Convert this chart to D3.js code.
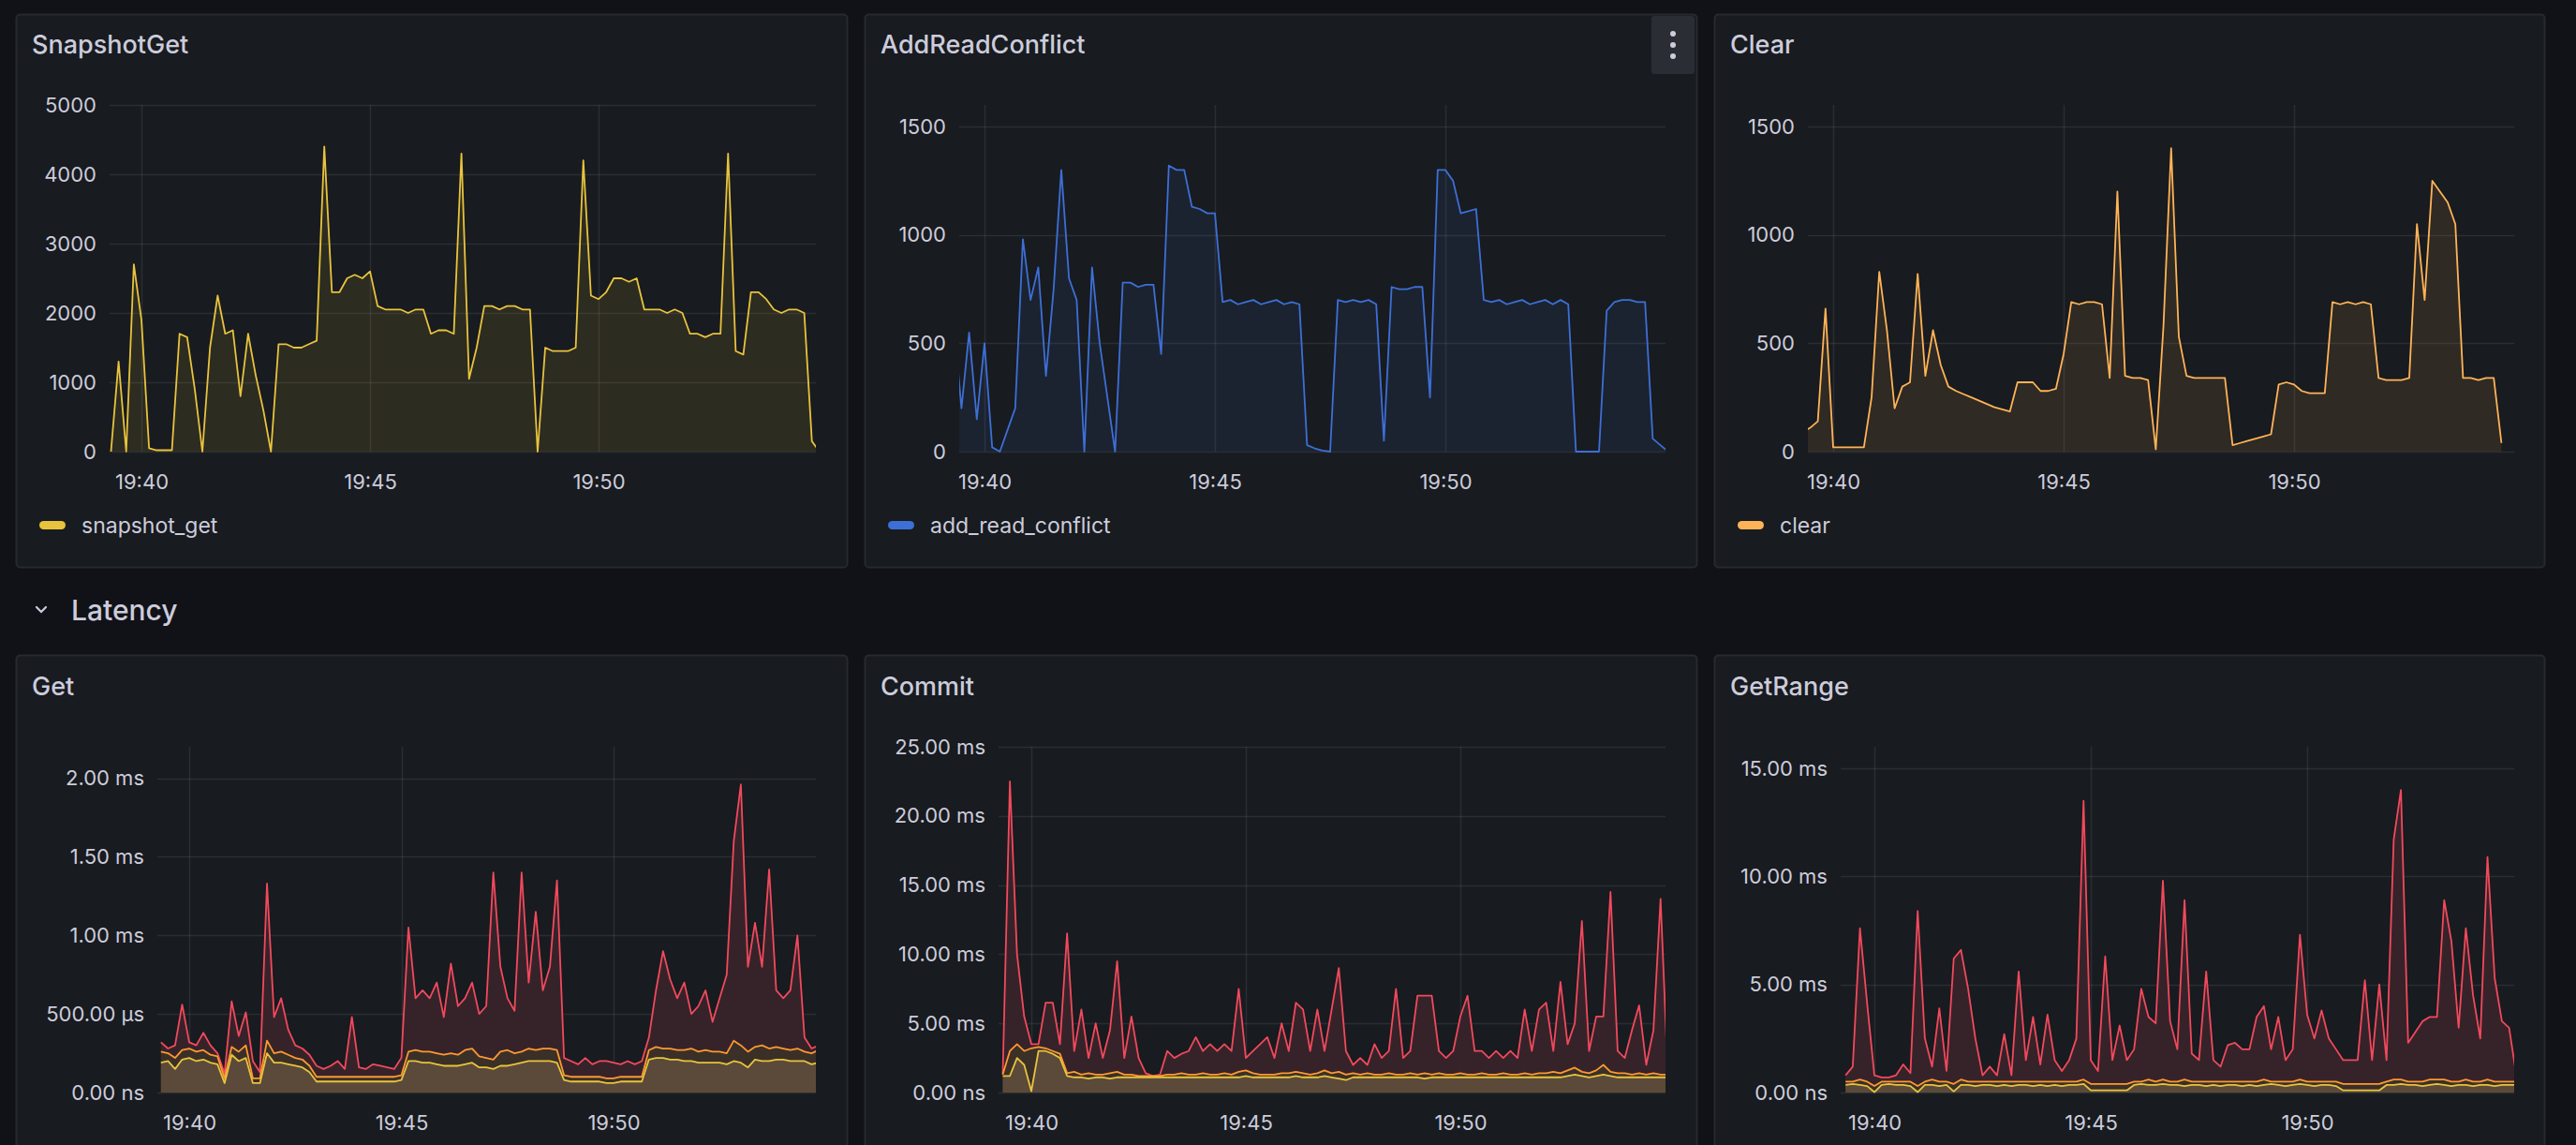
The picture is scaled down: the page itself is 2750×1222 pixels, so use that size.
<!DOCTYPE html>
<html>
<head>
<meta charset="utf-8">
<script src="https://cdn.jsdelivr.net/npm/d3@7"></script>
<style>
  body { margin: 0; background: #111217; }
  svg { display: block; font-family: Inter, "Noto Sans", sans-serif; }
</style>
</head>
<body>
<svg id="dash" width="2750" height="1222"></svg>
<script>
// sample times: 19:39:20 .. 19:54:50, one every 10 s
var t0 = new Date(2024, 0, 1, 19, 39, 20);
var times = d3.range(94).map(function (i) { return new Date(+t0 + i * 10000); });
var tickTimes = [new Date(2024, 0, 1, 19, 40), new Date(2024, 0, 1, 19, 45), new Date(2024, 0, 1, 19, 50)];

var snapshotGet = [
  0, 1300, 0, 2700, 1900, 50, 20, 20, 20, 1700,
  1650, 900, 0, 1500, 2250, 1700, 1750, 800, 1700, 1100,
  600, 0, 1550, 1550, 1500, 1500, 1550, 1600, 4400, 2300,
  2300, 2500, 2550, 2500, 2600, 2100, 2050, 2050, 2050, 2000,
  2050, 2050, 1700, 1750, 1750, 1700, 4300, 1050, 1500, 2100,
  2100, 2050, 2100, 2100, 2050, 2050, 0, 1500, 1450, 1450,
  1450, 1500, 4200, 2250, 2200, 2300, 2500, 2500, 2450, 2500,
  2050, 2050, 2050, 2000, 2050, 2000, 1700, 1700, 1650, 1700,
  1700, 4300, 1450, 1400, 2300, 2300, 2200, 2050, 2000, 2050,
  2050, 2000, 150, 0];

var addReadConflict = [
  600, 200, 550, 150, 500, 20, 0, 100, 200, 980,
  700, 850, 350, 750, 1300, 800, 700, 0, 850, 500,
  250, 0, 780, 780, 760, 770, 770, 450, 1320, 1300,
  1300, 1130, 1120, 1100, 1100, 690, 700, 680, 690, 700,
  680, 690, 700, 680, 690, 680, 30, 15, 5, 0,
  700, 690, 700, 690, 700, 680, 50, 760, 750, 750,
  760, 760, 250, 1300, 1300, 1250, 1100, 1110, 1120, 700,
  690, 700, 680, 690, 700, 680, 690, 700, 680, 700,
  680, 0, 0, 0, 0, 650, 690, 700, 700, 690,
  690, 60, 30, 0];

var clear = [
  90, 110, 140, 660, 20, 20, 20, 20, 20, 250,
  830, 560, 200, 300, 320, 820, 350, 560, 400, 300,
  280, 265, 250, 235, 220, 205, 195, 185, 320, 320,
  320, 280, 280, 290, 450, 690, 680, 690, 690, 680,
  340, 1200, 350, 340, 340, 330, 10, 580, 1400, 530,
  350, 340, 340, 340, 340, 340, 30, 40, 50, 60,
  70, 80, 310, 320, 310, 280, 270, 270, 270, 690,
  680, 690, 680, 690, 680, 340, 330, 330, 330, 340,
  1050, 700, 1250, 1200, 1150, 1050, 340, 340, 330, 340,
  340, 40, null, null];

// Get latency, microseconds
var getP99 = [
  320, 280, 300, 560, 320, 300, 380, 300, 250, 120,
  580, 360, 510, 200, 130, 1330, 480, 600, 400, 300,
  280, 240, 170, 150, 170, 200, 150, 480, 160, 150,
  180, 170, 160, 150, 220, 1050, 600, 650, 600, 700,
  480, 820, 550, 600, 700, 500, 550, 1400, 800, 600,
  520, 1400, 700, 1150, 650, 800, 1350, 220, 200, 180,
  220, 180, 200, 200, 190, 180, 200, 180, 200, 350,
  650, 900, 720, 600, 700, 500, 550, 650, 450, 600,
  750, 1600, 1960, 800, 1080, 800, 1420, 650, 600, 650,
  1000, 350, 280, 300];
var getP95 = [
  260, 250, 220, 270, 280, 260, 270, 240, 230, 90,
  290, 260, 300, 90, 90, 330, 250, 260, 240, 220,
  210, 170, 100, 100, 100, 100, 100, 100, 100, 100,
  100, 100, 100, 100, 110, 260, 270, 260, 260, 250,
  240, 250, 240, 270, 280, 230, 220, 210, 260, 270,
  250, 260, 280, 270, 280, 280, 270, 110, 100, 100,
  100, 100, 100, 90, 90, 100, 100, 100, 100, 270,
  290, 280, 280, 270, 270, 280, 260, 270, 260, 260,
  250, 330, 300, 260, 290, 300, 280, 290, 280, 270,
  280, 260, 250, 270];
var getP50 = [
  190, 200, 150, 210, 220, 200, 210, 190, 180, 60,
  240, 200, 220, 60, 60, 250, 190, 190, 180, 170,
  160, 130, 70, 70, 70, 70, 70, 70, 70, 70,
  70, 70, 70, 70, 80, 200, 200, 190, 190, 180,
  170, 170, 170, 180, 190, 160, 160, 150, 170, 170,
  180, 190, 200, 200, 200, 200, 190, 80, 70, 70,
  70, 70, 70, 60, 60, 70, 70, 70, 70, 210,
  220, 220, 210, 210, 200, 200, 190, 190, 190, 190,
  180, 200, 190, 160, 210, 200, 200, 210, 210, 200,
  200, 200, 180, 190];

// Commit latency, milliseconds
var commitP99 = [
  1.3, 22.5, 10, 5.5, 3.5, 3.5, 6.5, 6.5, 3.5, 11.5,
  3, 6, 2.5, 5, 2.5, 4.5, 9.5, 2.5, 5.5, 2.5,
  1.4, 1.2, 1.3, 3, 2.5, 2.8, 3, 4, 3, 3.5,
  3, 3.5, 3, 7.5, 2.5, 3, 3.5, 4, 2.5, 5,
  3, 6.5, 6, 3, 6, 3, 6, 9, 3, 2,
  2.5, 2, 3.5, 2.5, 3, 7.5, 2.5, 3, 7, 7,
  7, 3, 2.5, 3, 5.5, 7, 3, 3, 2.5, 3,
  2.5, 3, 2.5, 6, 3, 6, 6.5, 3, 8, 3.5,
  5, 12.4, 3, 5.5, 5.5, 14.5, 3, 2.5, 4.5, 6.3,
  2, 4.5, 14, 1.5];
var commitP95 = [
  1.3, 3, 3.5, 3, 3.2, 3.3, 3.2, 3, 2.8, 1.4,
  1.5, 1.3, 1.4, 1.3, 1.3, 1.4, 1.5, 1.3, 1.3, 1.2,
  1.2, 1.2, 1.2, 1.3, 1.3, 1.4, 1.3, 1.3, 1.4, 1.3,
  1.3, 1.4, 1.3, 1.5, 1.6, 1.4, 1.3, 1.3, 1.3, 1.4,
  1.4, 1.5, 1.4, 1.3, 1.4, 1.6, 1.4, 1.5, 1.3, 1.4,
  1.3, 1.4, 1.3, 1.3, 1.4, 1.3, 1.3, 1.4, 1.3, 1.4,
  1.3, 1.4, 1.3, 1.3, 1.4, 1.3, 1.3, 1.4, 1.3, 1.3,
  1.4, 1.3, 1.3, 1.4, 1.3, 1.4, 1.4, 1.5, 1.4, 1.6,
  1.8, 1.5, 1.4, 1.6, 2, 1.5, 1.4, 1.4, 1.3, 1.4,
  1.3, 1.4, 1.3, 1.3];
var commitP50 = [
  1.2, 1.2, 2.5, 2, 0.1, 3, 3, 2.8, 2.5, 1.2,
  1.1, 1.1, 1.0, 1.1, 1.1, 1.0, 1.1, 1.1, 1.1, 1.1,
  1.1, 1.1, 1.1, 1.1, 1.1, 1.1, 1.1, 1.1, 1.1, 1.1,
  1.1, 1.1, 1.1, 1.1, 1.2, 1.1, 1.1, 1.1, 1.1, 1.1,
  1.1, 1.2, 1.1, 1.1, 1.1, 1.2, 1.1, 1.0, 0.9, 1.1,
  1.1, 1.1, 1.1, 1.1, 1.1, 1.1, 1.1, 1.1, 1.1, 1.0,
  1.1, 1.1, 1.1, 1.1, 1.1, 1.1, 1.1, 1.1, 1.1, 1.1,
  1.1, 1.1, 1.1, 1.1, 1.1, 1.1, 1.1, 1.1, 1.1, 1.2,
  1.3, 1.2, 1.1, 1.2, 1.3, 1.2, 1.1, 1.1, 1.1, 1.1,
  1.1, 1.1, 1.1, 1.1];

// GetRange latency, milliseconds
var getRangeP99 = [
  0.8, 1.2, 7.6, 4.1, 0.8, 0.7, 0.7, 0.8, 1.3, 0.9,
  8.4, 2.5, 1.2, 3.9, 1, 6.2, 6.6, 4.8, 2.5, 0.8,
  1.2, 0.8, 2.7, 0.8, 5.6, 1.5, 3.5, 1.3, 3.6, 1.5,
  1, 1.5, 2.5, 13.5, 1.5, 1, 6.3, 1.5, 3.1, 1.5,
  2, 4.8, 3.5, 3.2, 9.8, 3.3, 2, 8.9, 1.8, 1.5,
  5.6, 1.5, 1.2, 2.2, 2.3, 2, 2, 3.5, 4, 2,
  3.5, 1.5, 2, 7.3, 3.6, 2.5, 3.8, 2.5, 2, 1.5,
  1.5, 1.5, 5.2, 1.5, 5, 1.5, 11.7, 14, 2.3, 2.8,
  3.3, 3.5, 3.5, 8.9, 7, 3, 7.6, 4.5, 2.5, 10.9,
  5.3, 3.3, 3, 0.8];
var getRangeP95 = [
  0.5, 0.5, 0.6, 0.5, 0.3, 0.5, 0.5, 0.5, 0.5, 0.5,
  0.3, 0.5, 0.6, 0.5, 0.5, 0.4, 0.6, 0.5, 0.5, 0.5,
  0.5, 0.5, 0.5, 0.5, 0.5, 0.5, 0.5, 0.5, 0.5, 0.5,
  0.5, 0.5, 0.5, 0.6, 0.4, 0.4, 0.4, 0.4, 0.4, 0.4,
  0.5, 0.5, 0.6, 0.5, 0.6, 0.5, 0.5, 0.6, 0.5, 0.5,
  0.5, 0.5, 0.5, 0.5, 0.5, 0.5, 0.5, 0.5, 0.6, 0.5,
  0.5, 0.5, 0.5, 0.6, 0.5, 0.5, 0.5, 0.5, 0.5, 0.4,
  0.4, 0.4, 0.4, 0.4, 0.4, 0.5, 0.6, 0.6, 0.5, 0.5,
  0.5, 0.6, 0.6, 0.6, 0.5, 0.5, 0.6, 0.5, 0.5, 0.6,
  0.5, 0.5, 0.5, 0.5];
var getRangeP50 = [
  0.35, 0.4, 0.35, 0.3, 0.02, 0.35, 0.4, 0.35, 0.35, 0.3,
  0.02, 0.35, 0.35, 0.3, 0.35, 0.05, 0.35, 0.35, 0.3, 0.35,
  0.35, 0.3, 0.35, 0.3, 0.35, 0.35, 0.3, 0.35, 0.3, 0.35,
  0.3, 0.35, 0.35, 0.4, 0.1, 0.1, 0.1, 0.1, 0.1, 0.1,
  0.35, 0.4, 0.35, 0.35, 0.4, 0.35, 0.35, 0.3, 0.35, 0.35,
  0.3, 0.35, 0.3, 0.35, 0.35, 0.3, 0.35, 0.3, 0.35, 0.4,
  0.35, 0.3, 0.35, 0.4, 0.35, 0.3, 0.35, 0.35, 0.3, 0.1,
  0.1, 0.1, 0.1, 0.1, 0.1, 0.35, 0.35, 0.4, 0.35, 0.35,
  0.3, 0.35, 0.4, 0.35, 0.3, 0.35, 0.35, 0.3, 0.35, 0.35,
  0.3, 0.35, 0.35, 0.35];

var C = {
  text: '#ccccdc', grid: 'rgba(204,204,220,0.10)', panel: '#181b1f', border: '#26292f',
  yellow: '#e8c33d', blue: '#3d6fd6', orange: '#ffb357', red: '#f2495c', amber: '#ff9830', p50: '#e8c33d'
};

var svg = d3.select('#dash');

function fmtLatencyUs(d) {
  if (d === 0) return '0.00 ns';
  return d < 1000 ? d.toFixed(2) + ' µs' : (d / 1000).toFixed(2) + ' ms';
}
function fmtLatencyMs(d) {
  return d === 0 ? '0.00 ns' : d.toFixed(2) + ' ms';
}

function panelBox(p) {
  var g = svg.append('g');
  g.append('rect')
    .attr('x', p.box[0] + 0.5).attr('y', p.box[1] + 0.5)
    .attr('width', p.box[2] - p.box[0]).attr('height', p.box[3] - p.box[1])
    .attr('rx', 4).attr('fill', C.panel).attr('stroke', C.border).attr('stroke-width', 2);
  g.append('text')
    .attr('x', p.box[0] + 17).attr('y', p.titleY)
    .attr('fill', C.text).attr('font-size', 27).attr('font-weight', 500)
    .text(p.title);
  return g;
}

function drawPanel(p, idx) {
  var g = panelBox(p);

  var x = d3.scaleTime().domain([tickTimes[0], tickTimes[2]]).range([p.x40, p.x50]);
  var y = d3.scaleLinear().domain([0, p.ymax]).range([p.bottom, p.top]);

  // grid
  var grid = g.append('g');
  grid.selectAll('line.h').data(p.yticks).enter().append('line')
    .attr('x1', p.left).attr('x2', p.right)
    .attr('y1', function (d) { return Math.round(y(d)) + 0.5; })
    .attr('y2', function (d) { return Math.round(y(d)) + 0.5; })
    .attr('stroke', C.grid).attr('stroke-width', 1.5);
  grid.selectAll('line.v').data(tickTimes).enter().append('line')
    .attr('x1', function (d) { return Math.round(x(d)) + 0.5; })
    .attr('x2', function (d) { return Math.round(x(d)) + 0.5; })
    .attr('y1', p.top).attr('y2', p.bottom)
    .attr('stroke', C.grid).attr('stroke-width', 1.5);

  // axes
  var yAxis = g.append('g').attr('transform', 'translate(' + (p.left - 14) + ',0)')
    .call(d3.axisLeft(y).tickValues(p.yticks).tickFormat(p.fmt).tickSize(0).tickPadding(0));
  var xAxis = g.append('g').attr('transform', 'translate(0,' + (p.bottom + 14) + ')')
    .call(d3.axisBottom(x).tickValues(tickTimes).tickFormat(d3.timeFormat('%H:%M')).tickSize(0).tickPadding(10));
  [yAxis, xAxis].forEach(function (a) {
    a.select('.domain').remove();
    a.selectAll('text').attr('fill', C.text).attr('font-size', 22)
      .attr('font-family', 'Inter, "Noto Sans", sans-serif');
  });

  var clipId = 'clip' + idx;
  svg.append('clipPath').attr('id', clipId).append('rect')
    .attr('x', p.left).attr('y', p.top - 2).attr('width', p.right - p.left).attr('height', p.bottom - p.top + 4);
  var plot = g.append('g').attr('clip-path', 'url(#' + clipId + ')');

  p.series.forEach(function (s) {
    var pts = times.map(function (t, i) { return [t, s.values[i]]; });
    var def = function (d) { return d[1] != null; };
    if (s.fill) {
      plot.append('path').datum(pts)
        .attr('fill', s.fill)
        .attr('d', d3.area().defined(def)
          .x(function (d) { return x(d[0]); })
          .y0(y(0))
          .y1(function (d) { return y(d[1]); }));
    }
    plot.append('path').datum(pts)
      .attr('fill', 'none').attr('stroke', s.color).attr('stroke-width', 1.8)
      .attr('stroke-linejoin', 'round')
      .attr('d', d3.line().defined(def)
        .x(function (d) { return x(d[0]); })
        .y(function (d) { return y(d[1]); }));
  });

  if (p.legend) {
    g.append('rect').attr('x', p.box[0] + 25).attr('y', 556).attr('width', 28).attr('height', 9)
      .attr('rx', 4.5).attr('fill', p.series[0].color);
    g.append('text').attr('x', p.box[0] + 70).attr('y', 569)
      .attr('fill', C.text).attr('font-size', 23).text(p.legend);
  }
}

var redFill = '#36232a';

var panels = [
  { title: 'SnapshotGet', box: [17, 15, 904, 605], titleY: 57, left: 117, right: 871, top: 112, bottom: 482,
    x40: 151, x50: 639, ymax: 5000, yticks: [0, 1000, 2000, 3000, 4000, 5000], fmt: d3.format('d'),
    legend: 'snapshot_get',
    series: [{ values: snapshotGet, color: C.yellow, fill: 'rgba(232,195,61,0.10)' }] },
  { title: 'AddReadConflict', box: [923, 15, 1811, 605], titleY: 57, left: 1024, right: 1778, top: 112, bottom: 482,
    x40: 1051, x50: 1543, ymax: 1600, yticks: [0, 500, 1000, 1500], fmt: d3.format('d'),
    legend: 'add_read_conflict',
    series: [{ values: addReadConflict, color: C.blue, fill: 'rgba(61,111,214,0.10)' }] },
  { title: 'Clear', box: [1830, 15, 2716, 605], titleY: 57, left: 1930, right: 2684, top: 112, bottom: 482,
    x40: 1957, x50: 2449, ymax: 1600, yticks: [0, 500, 1000, 1500], fmt: d3.format('d'),
    legend: 'clear',
    series: [{ values: clear, color: C.orange, fill: 'rgba(255,179,87,0.10)' }] },
  { title: 'Get', box: [17, 699, 904, 1260], titleY: 742, left: 168, right: 871, top: 797, bottom: 1166,
    x40: 202, x50: 655, ymax: 2200, yticks: [0, 500, 1000, 1500, 2000], fmt: fmtLatencyUs,
    series: [
      { values: getP99, color: C.red, fill: redFill },
      { values: getP95, color: C.amber, fill: '#3a3028' },
      { values: getP50, color: C.p50, fill: '#5b4a39' }] },
  { title: 'Commit', box: [923, 699, 1811, 1260], titleY: 742, left: 1066, right: 1778, top: 797, bottom: 1166,
    x40: 1101, x50: 1559, ymax: 25, yticks: [0, 5, 10, 15, 20, 25], fmt: fmtLatencyMs,
    series: [
      { values: commitP99, color: C.red, fill: redFill },
      { values: commitP95, color: C.amber, fill: '#3a3028' },
      { values: commitP50, color: C.p50, fill: '#5b4a39' }] },
  { title: 'GetRange', box: [1830, 699, 2716, 1260], titleY: 742, left: 1965, right: 2684, top: 797, bottom: 1166,
    x40: 2001, x50: 2463, ymax: 16, yticks: [0, 5, 10, 15], fmt: fmtLatencyMs,
    series: [
      { values: getRangeP99, color: C.red, fill: redFill },
      { values: getRangeP95, color: C.amber, fill: '#3a3028' },
      { values: getRangeP50, color: C.p50, fill: '#5b4a39' }] }
];

panels.forEach(drawPanel);

// menu button on AddReadConflict
var menu = svg.append('g');
menu.append('rect').attr('x', 1763).attr('y', 17).attr('width', 46).attr('height', 62).attr('rx', 3).attr('fill', '#2a2d33');
[36, 48, 60].forEach(function (cy) {
  menu.append('circle').attr('cx', 1786).attr('cy', cy).attr('r', 3).attr('fill', C.text);
});

// row header
svg.append('path').attr('d', 'M39,648 l5,5 l5,-5').attr('fill', 'none')
  .attr('stroke', C.text).attr('stroke-width', 2.2).attr('stroke-linecap', 'round');
svg.append('text').attr('x', 76).attr('y', 662).attr('fill', C.text)
  .attr('font-size', 30).attr('font-weight', 500).text('Latency');
</script>
</body>
</html>
